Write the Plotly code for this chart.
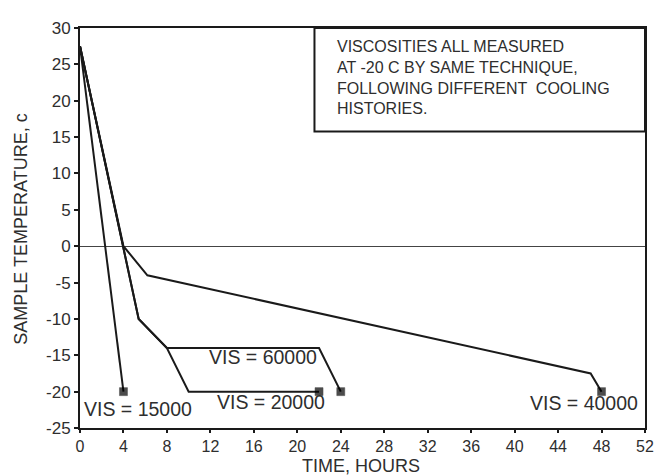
import plotly.graph_objects as go

# ---- data ----
time_15000 = [0, 4]
temp_15000 = [27.5, -20]

time_20000 = [0, 4, 5.4, 8, 10, 22]
temp_20000 = [27.5, 0, -10, -14, -20, -20]

time_60000 = [0, 4, 5.4, 8, 22, 24]
temp_60000 = [27.5, 0, -10, -14, -14, -20]

time_40000 = [0, 4, 6.2, 47, 48]
temp_40000 = [27.5, 0, -4, -17.5, -20]

series_labels = ["VIS = 15000", "VIS = 20000", "VIS = 60000", "VIS = 40000"]

x_ticks = list(range(0, 53, 4))
x_tick_text = [str(v) for v in x_ticks]
y_ticks = list(range(-25, 31, 5))
y_tick_text = [str(v) for v in y_ticks]  # plain hyphen minus as in the scan

note_lines = [
    "VISCOSITIES ALL MEASURED",
    "AT -20 C BY SAME TECHNIQUE,",
    "FOLLOWING DIFFERENT  COOLING",
    "HISTORIES.",
]
x_title = "TIME, HOURS"
y_title = "SAMPLE TEMPERATURE, c"

FONT = "Liberation Sans, Arial, sans-serif"
INK = "#1a1a1a"
TXT = "#2e2e2e"

fig = go.Figure()

series = [
    (time_15000, temp_15000),
    (time_20000, temp_20000),
    (time_60000, temp_60000),
    (time_40000, temp_40000),
]
for (xs, ys), name in zip(series, series_labels):
    sizes = [0] * (len(xs) - 1) + [8]
    fig.add_trace(go.Scatter(
        x=xs, y=ys, mode="lines+markers", name=name,
        line=dict(color=INK, width=2),
        marker=dict(symbol="square", size=sizes, color="#000000",
                    line=dict(width=0.5, color="#000000")),
        showlegend=False, cliponaxis=False,
    ))

# series labels
label_pos = {
    "VIS = 15000": (5.3, -22.4),
    "VIS = 20000": (17.6, -21.4),
    "VIS = 60000": (16.8, -15.3),
    "VIS = 40000": (46.4, -21.6),
}
for name in series_labels:
    x, y = label_pos[name]
    fig.add_annotation(x=x, y=y, xref="x", yref="y", text=name, showarrow=False,
                       font=dict(family=FONT, size=19.5, color=TXT),
                       xanchor="center", yanchor="middle")

# note box
fig.add_shape(type="rect", xref="paper", yref="paper",
              x0=0.415, x1=1.0, y0=0.741, y1=1.0,
              line=dict(color=INK, width=2), fillcolor="white", layer="above")
fig.add_annotation(xref="paper", yref="paper", x=0.4505, y=0.98,
                   xanchor="left", yanchor="top", align="left", showarrow=False,
                   text="<br>".join(note_lines),
                   font=dict(family=FONT, size=16, color=TXT))

# axis titles
fig.add_annotation(xref="paper", yref="paper", x=0.498, y=-0.096, text=x_title,
                   showarrow=False, xanchor="center", yanchor="middle",
                   font=dict(family=FONT, size=18, color=TXT))
fig.add_annotation(xref="paper", yref="paper", x=-0.106, y=0.496, text=y_title,
                   showarrow=False, xanchor="center", yanchor="middle", textangle=-90,
                   font=dict(family=FONT, size=18, color=TXT))

# the page body has an 8px margin, so the figure is sized to fill the window from (8, 8)
fig.update_layout(
    width=657, height=468, autosize=False,
    margin=dict(l=72, r=19, t=11, b=48),
    paper_bgcolor="white", plot_bgcolor="white",
    font=dict(family=FONT, size=17, color=TXT),
)
fig.update_xaxes(range=[0, 52], tickvals=x_ticks, ticktext=x_tick_text,
                 showgrid=False, zeroline=False,
                 showline=True, linecolor=INK, linewidth=2, mirror=True,
                 ticks="outside", ticklen=3, tickcolor=INK, tickwidth=1.5,
                 tickfont=dict(family=FONT, size=16, color=TXT))
fig.update_yaxes(range=[-25, 30], tickvals=y_ticks, ticktext=y_tick_text,
                 showgrid=False, zeroline=True, zerolinecolor="#444444", zerolinewidth=1.2,
                 showline=True, linecolor=INK, linewidth=2, mirror=True,
                 ticks="outside", ticklen=4, tickcolor=INK, tickwidth=1.5,
                 tickfont=dict(family=FONT, size=17, color=TXT))

fig.write_html("out.html")
